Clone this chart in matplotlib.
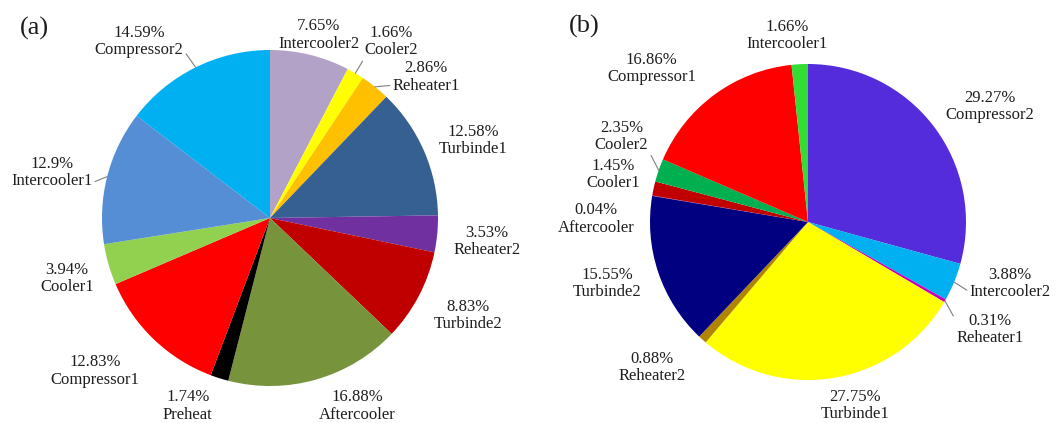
import matplotlib
matplotlib.use('Agg')
import matplotlib.pyplot as plt
import numpy as np

# ---- data ----
labels_a = ['Intercooler2', 'Cooler2', 'Reheater1', 'Turbinde1', 'Reheater2', 'Turbinde2',
            'Aftercooler', 'Preheat', 'Compressor1', 'Cooler1', 'Intercooler1', 'Compressor2']
values_a = [7.65, 1.66, 2.86, 12.58, 3.53, 8.83, 16.88, 1.74, 12.83, 3.94, 12.9, 14.59]
colors_a = ['#B3A2C7', '#FFFF00', '#FFC000', '#376092', '#7030A0', '#C00000',
            '#77933C', '#000000', '#FF0000', '#92D050', '#558ED5', '#00B0F0']

labels_b = ['Compressor2', 'Intercooler2', 'Reheater1', 'Turbinde1', 'Reheater2', 'Turbinde2',
            'Aftercooler', 'Cooler1', 'Cooler2', 'Compressor1', 'Intercooler1']
values_b = [29.27, 3.88, 0.31, 27.75, 0.88, 15.55, 0.04, 1.45, 2.35, 16.86, 1.66]
colors_b = ['#542CDC', '#00B0F0', '#C000C0', '#FFFF00', '#B08400', '#000080',
            '#7030A0', '#C00000', '#00B050', '#FF0000', '#33DD33']

# ---- layout (label positions in units of radius, relative to centre) ----
pos_a = [(0.29, 1.09), (0.72, 1.05), (0.93, 0.84), (1.21, 0.46), (1.29, -0.14), (1.18, -0.58),
         (0.52, -1.12), (-0.49, -1.12), (-1.04, -0.91), (-1.21, -0.36), (-1.30, 0.27), (-0.78, 1.05)]
lead_a = {1: (0.0, 0.0), 2: (0.0, 0.25), 10: (1.0, 0.2), 11: (1.0, 0.25)}

pos_b = [(1.15, 0.73), (1.28, -0.39), (1.15, -0.68), (0.30, -1.16), (-0.99, -0.92), (-1.27, -0.39),
         (-1.34, 0.02), (-1.23, 0.30), (-1.18, 0.54), (-0.99, 0.97), (-0.13, 1.18)]
lead_b = {1: (0.0, 0.25), 2: (0.0, 0.75), 8: (1.0, 0.1)}

W, H = 1056, 423
fig = plt.figure(figsize=(W / 100, H / 100), dpi=100)
ax = fig.add_axes([0, 0, 1, 1])

FONT = 'Liberation Serif'
FS = 12
TXT = '#1e1e1e'


def draw_pie(values, colors, labels, center, radius, positions, leaders):
    wedges, _ = ax.pie(values, colors=colors, startangle=90, counterclock=False,
                       center=center, radius=radius, frame=True,
                       wedgeprops=dict(linewidth=0))
    for i, (w, lab, v) in enumerate(zip(wedges, labels, values)):
        mid = np.deg2rad((w.theta1 + w.theta2) / 2.0)
        edge = (center[0] + radius * np.cos(mid), center[1] + radius * np.sin(mid))
        dx, dy = positions[i]
        tpos = (center[0] + dx * radius, center[1] + dy * radius)
        text = f"{v:g}%\n{lab}"
        if i in leaders:
            ax.annotate(text, xy=edge, xytext=tpos, ha='center', va='center',
                        fontsize=FS, family=FONT, color=TXT, linespacing=1.12,
                        arrowprops=dict(arrowstyle='-', color='#7f7f7f', lw=0.8,
                                        relpos=leaders[i], shrinkA=0, shrinkB=0))
        else:
            ax.text(tpos[0], tpos[1], text, ha='center', va='center',
                    fontsize=FS, family=FONT, color=TXT, linespacing=1.12)


draw_pie(values_a, colors_a, labels_a, (270, H - 218), 168, pos_a, lead_a)
draw_pie(values_b, colors_b, labels_b, (808, H - 222), 158, pos_b, lead_b)

ax.set_xlim(0, W)
ax.set_ylim(0, H)
ax.set_aspect('equal')
ax.axis('off')

ax.text(34, H - 28, '(a)', ha='center', va='center', fontsize=19, family=FONT, color=TXT)
ax.text(584, H - 26, '(b)', ha='center', va='center', fontsize=19, family=FONT, color=TXT)

fig.savefig('out.png', dpi=100, facecolor='white')
